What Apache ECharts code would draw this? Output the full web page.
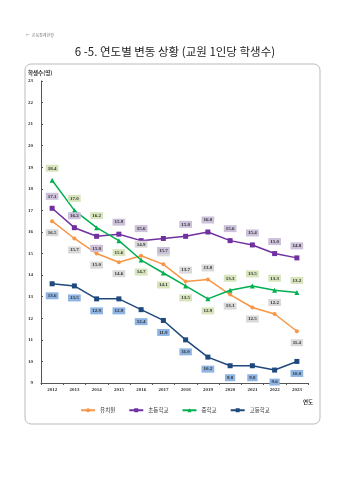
<!DOCTYPE html>
<html>
<head>
<meta charset="utf-8">
<script src="https://cdn.jsdelivr.net/npm/echarts@6/dist/echarts.min.js"></script>
<style>
  html, body { margin: 0; padding: 0; background: #fff; }
  #chart { width: 350px; height: 480px; }
</style>
</head>
<body>
<div id="chart"></div>
<script>
const years = ['2012', '2013', '2014', '2015', '2016', '2017', '2018', '2019', '2020', '2021', '2022', '2023']
const kinder = [16.5, 15.7, 15.0, 14.6, 14.9, 14.5, 13.7, 13.8, 13.1, 12.5, 12.2, 11.4]
const elementary = [17.1, 16.2, 15.8, 15.9, 15.6, 15.7, 15.8, 16.0, 15.6, 15.4, 15.0, 14.8]
const middle = [18.4, 17.0, 16.2, 15.6, 14.7, 14.1, 13.5, 12.9, 13.3, 13.5, 13.3, 13.2]
const high = [13.6, 13.5, 12.9, 12.9, 12.4, 11.9, 11.0, 10.2, 9.8, 9.8, 9.6, 10.0]

// label side for each point (t = above, b = below)
const kinderSide = ['b', 'b', 'b', 'b', 't', 't', 't', 't', 'b', 'b', 't', 'b']
const elemSide = ['t', 't', 'b', 't', 't', 'b', 't', 't', 't', 't', 't', 't']
const middleSide = ['t', 't', 't', 'b', 'b', 'b', 'b', 'b', 't', 't', 't', 't']
const highSide = ['b', 'b', 'b', 'b', 'b', 'b', 'b', 'b', 'b', 'b', 'b', 'b']

const chart = echarts.init(document.getElementById('chart'), null, { renderer: 'canvas' })

const font = '"Noto Sans CJK KR", "Noto Sans", sans-serif'

function makeSeries(name, values, sides, color, symbol, labelBg) {
  return {
    name,
    type: 'line',
    data: values.map((v, i) => ({
      value: v,
      label: { position: sides[i] === 't' ? 'top' : 'bottom' },
    })),
    symbol,
    symbolSize: symbol === 'circle' ? 4 : 5,
    itemStyle: { color },
    lineStyle: { color, width: 1.5 },
    label: {
      show: true,
      distance: 6,
      formatter: (p) => p.value.toFixed(1),
      fontSize: 5,
      fontWeight: 'bold',
      fontFamily: 'Liberation Serif, serif',
      color: '#333',
      backgroundColor: labelBg,
      padding: [1, 2, 1, 2],
    },
    emphasis: { disabled: true },
  }
}

const option = {
  animation: false,
  backgroundColor: '#fff',
  textStyle: { fontFamily: font },
  title: {
    text: '6 -5. 연도별 변동 상황 (교원 1인당 학생수)',
    left: 'center',
    top: 41,
    textStyle: { fontSize: 11.5, fontWeight: 'normal', color: '#222', fontFamily: font },
  },
  graphic: [
    {
      type: 'rect',
      shape: { x: 25, y: 64, width: 295, height: 360, r: 6 },
      style: { fill: 'none', stroke: '#bbb', lineWidth: 1 },
      z: -1,
    },
    {
      type: 'text',
      left: 26,
      top: 33,
      style: { text: '←  교육통계현황', fontSize: 4, fill: '#777', fontFamily: font },
    },
    {
      type: 'text',
      left: 28,
      top: 70,
      style: { text: '학생수(명)', fontSize: 5.5, fontWeight: 'bold', fill: '#333', fontFamily: font },
    },
    {
      type: 'text',
      left: 303,
      top: 399,
      style: { text: '연도', fontSize: 5.5, fontWeight: 'bold', fill: '#333', fontFamily: font },
    },
  ],
  legend: {
    bottom: 62,
    left: 'center',
    itemWidth: 14,
    itemHeight: 5,
    itemGap: 13,
    textStyle: { fontSize: 5.5, color: '#333', fontFamily: font },
    data: ['유치원', '초등학교', '중학교', '고등학교'],
  },
  grid: { left: 41, right: 42, top: 81, bottom: 97 },
  xAxis: {
    type: 'category',
    data: years,
    axisLine: { lineStyle: { color: '#555', width: 1 } },
    axisTick: { show: true, length: 2, lineStyle: { color: '#555' } },
    axisLabel: { fontSize: 5, fontWeight: 'bold', color: '#333', margin: 4, fontFamily: 'Liberation Serif, serif' },
  },
  yAxis: {
    type: 'value',
    min: 9,
    max: 23,
    interval: 1,
    axisLine: { show: true, lineStyle: { color: '#555', width: 1 } },
    axisTick: { show: true, inside: true, length: 2, lineStyle: { color: '#555' } },
    axisLabel: { fontSize: 5, fontWeight: 'bold', color: '#333', margin: 8, fontFamily: 'Liberation Serif, serif' },
    splitLine: { show: false },
  },
  series: [
    makeSeries('유치원', kinder, kinderSide, '#f79646', 'circle', '#d9d9d9'),
    makeSeries('초등학교', elementary, elemSide, '#7030a0', 'rect', '#ccc0da'),
    makeSeries('중학교', middle, middleSide, '#00b050', 'triangle', '#d7e4bc'),
    makeSeries('고등학교', high, highSide, '#1f497d', 'rect', '#8db4e2'),
  ],
}

chart.setOption(option)
</script>
</body>
</html>
